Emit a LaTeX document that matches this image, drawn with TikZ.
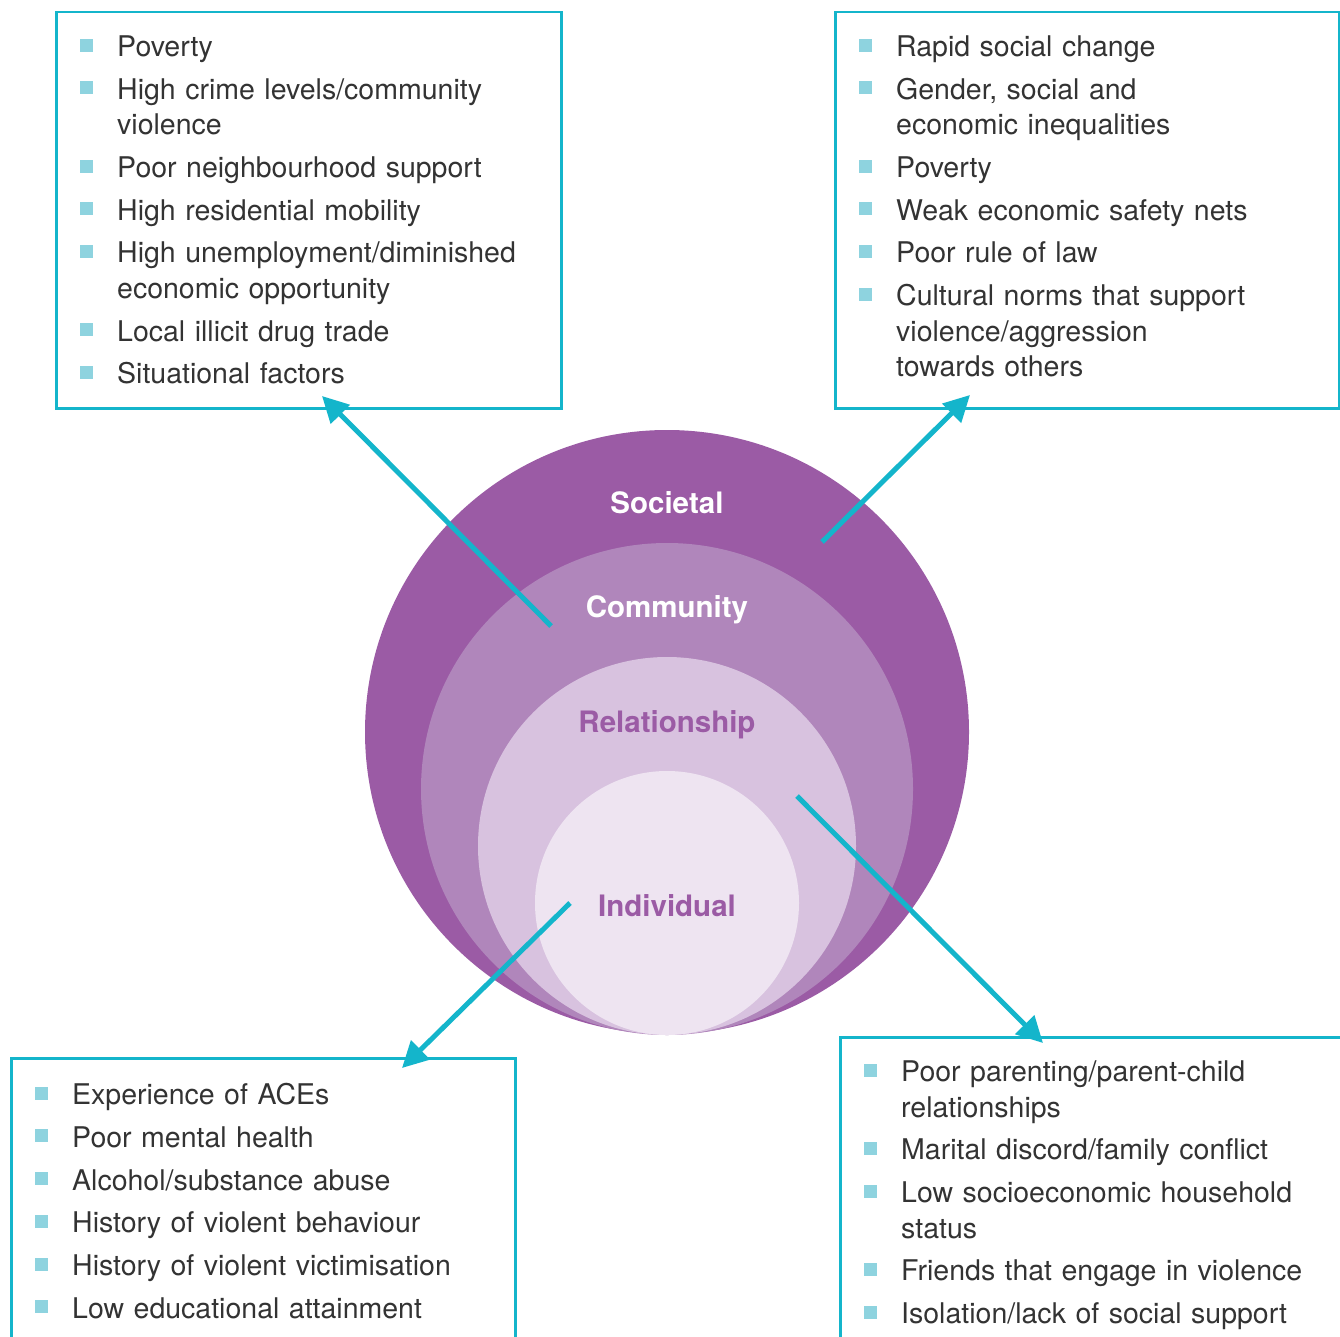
\documentclass[tikz,border=0pt]{standalone}
\usepackage{fontspec}
\setmainfont{TeX Gyre Heros}
\usetikzlibrary{arrows.meta,positioning}

\definecolor{societal}{HTML}{9B5BA5}
\definecolor{community}{HTML}{B086BB}
\definecolor{relation}{HTML}{D8C2DF}
\definecolor{individ}{HTML}{EEE4F1}
\definecolor{cyanline}{HTML}{14B5CB}
\definecolor{bulletc}{HTML}{8ED3DF}
\definecolor{textgray}{HTML}{333333}

\newenvironment{risklist}{\begin{list}{\textcolor{bulletc}{\rule[5pt]{13pt}{13pt}}}{%
  \setlength{\leftmargin}{42pt}\setlength{\labelwidth}{13pt}\setlength{\labelsep}{24pt}%
  \setlength{\itemsep}{7.2pt}\setlength{\parsep}{0pt}\setlength{\topsep}{0pt}\setlength{\partopsep}{0pt}}}%
  {\end{list}}

\tikzset{
  riskbox/.style={draw=cyanline, line width=2.5pt, inner sep=0pt, anchor=north west},
  risktext/.style={text=textgray, font=\fontsize{28.5}{35.5}\selectfont, text width=#1, align=left, inner sep=0pt, anchor=north west},
  ring/.style={circle, inner sep=0pt, minimum size=#1},
  ringlabel/.style={font=\fontsize{29.5}{34}\selectfont\bfseries},
  factorarrow/.style={draw=cyanline, line width=5pt, -{Triangle[length=26pt,width=26pt]}}
}

\begin{document}
\begin{tikzpicture}[x=1pt,y=-1pt]
  \useasboundingbox (0,0) rectangle (1340,1337);

  % circulos
  \node[ring=604pt, fill=societal] (soc) at (667,732) {};
  \node[ring=492pt, fill=community] (com) at (667,789) {};
  \node[ring=378pt, fill=relation] (rel) at (667,846) {};
  \node[ring=264pt, fill=individ] (ind) at (667,903) {};

  \node[ringlabel, text=white] (soclabel) at (667,503) {Societal};
  \node[ringlabel, text=white] (comlabel) at (667,610) {Community};
  \node[ringlabel, text=societal] (rellabel) at (667,725) {Relationship};
  \node[ringlabel, text=societal] (indlabel) at (667,906) {Individual};

  % cajas
  \node[riskbox, minimum width=505pt, minimum height=396pt] (combox) at (55,11) {};
  \node[riskbox, minimum width=504pt, minimum height=396pt] (socbox) at (834,11) {};
  \node[riskbox, minimum width=504pt, minimum height=360pt] (indbox) at (10,1057) {};
  \node[riskbox, minimum width=530pt, minimum height=380pt] (relbox) at (839,1036) {};

  % listas
  \node[risktext=480pt] (comlist) at (75,21) {\begin{risklist}
    \item Poverty
    \item High crime levels/community\newline violence
    \item Poor neighbourhood support
    \item High residential mobility
    \item High unemployment/diminished\newline economic opportunity
    \item Local illicit drug trade
    \item Situational factors
  \end{risklist}};

  \node[risktext=480pt] (soclist) at (854,21) {\begin{risklist}
    \item Rapid social change
    \item Gender, social and\newline economic inequalities
    \item Poverty
    \item Weak economic safety nets
    \item Poor rule of law
    \item Cultural norms that support\newline violence/aggression\newline towards others
  \end{risklist}};

  \node[risktext=480pt] (indlist) at (30,1069) {\begin{risklist}
    \item Experience of ACEs
    \item Poor mental health
    \item Alcohol/substance abuse
    \item History of violent behaviour
    \item History of violent victimisation
    \item Low educational attainment
  \end{risklist}};

  \node[risktext=480pt] (rellist) at (859,1046) {\begin{risklist}
    \item Poor parenting/parent-child\newline relationships
    \item Marital discord/family conflict
    \item Low socioeconomic household\newline status
    \item Friends that engage in violence
    \item Isolation/lack of social support
  \end{risklist}};

  % flechas
  \coordinate (comfrom) at (551,626);
  \coordinate (comto) at (322,396);
  \coordinate (socfrom) at (822,542);
  \coordinate (socto) at (970,395);
  \coordinate (indfrom) at (570,903);
  \coordinate (indto) at (402,1068);
  \coordinate (relfrom) at (797,796);
  \coordinate (relto) at (1043,1043);

  \draw[factorarrow] (comfrom) -- (comto);
  \draw[factorarrow] (socfrom) -- (socto);
  \draw[factorarrow] (indfrom) -- (indto);
  \draw[factorarrow] (relfrom) -- (relto);
\end{tikzpicture}
\end{document}
